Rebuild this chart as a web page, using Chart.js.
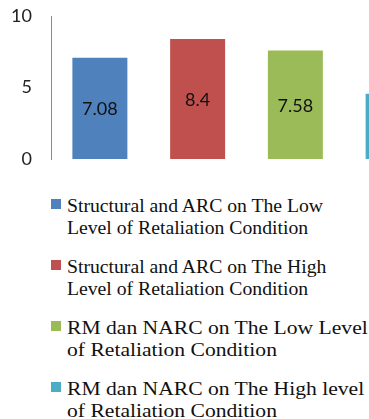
<!DOCTYPE html>
<html>
<head>
<meta charset="utf-8">
<script src="https://cdn.jsdelivr.net/npm/chart.js@4"></script>
<style>
  html, body { margin: 0; padding: 0; background: #fff; overflow: hidden; width: 369px; height: 419px; }
  #chart { position: absolute; left: 0; top: 0; }
  #legend { position: absolute; left: 51px; top: 193.5px; font-family: "Times New Roman", "Liberation Serif", serif; font-size: 19.7px; line-height: 22.5px; color: #111; }
  .item { position: relative; padding-left: 16px; margin-bottom: 16px; white-space: nowrap; }
  .item span.box { position: absolute; left: 0; top: 5.5px; width: 10px; height: 10px; }
  .item .txt { display: inline-block; transform-origin: left top; }
  /* the last two entries are drawn a bit wider in the original */
  .item:nth-child(n+3) .txt { transform: scaleX(1.097); }
</style>
</head>
<body>
<canvas id="chart" width="442" height="175"></canvas>
<div id="legend"></div>
<script>
// 🔹 chart data
const categories = [
  ["Structural and ARC on The Low", "Level of Retaliation Condition"],
  ["Structural and ARC on The High", "Level of Retaliation Condition"],
  ["RM dan NARC on The Low Level", "of Retaliation Condition"],
  ["RM dan NARC on The High level", "of Retaliation Condition"]
];
const values = [7.08, 8.4, 7.58, 4.57];
const valueLabels = ["7.08", "8.4", "7.58", "4.57"];
const yTicks = [0, 5, 10];
const colors = ["#4F81BD", "#C0504D", "#9BBB59", "#4BACC6"];

// 🔹 small plugin to write the value in the middle of each bar
const barLabels = {
  id: "barLabels",
  afterDatasetsDraw(chart) {
    const ctx = chart.ctx;
    const meta = chart.getDatasetMeta(0);
    ctx.save();
    ctx.font = "18px Lato, sans-serif";
    ctx.fillStyle = "#111";
    ctx.textAlign = "center";
    ctx.textBaseline = "middle";
    meta.data.forEach((bar, i) => {
      ctx.fillText(valueLabels[i], bar.x, (bar.y + bar.base) / 2 + 1);
    });
    ctx.restore();
  }
};

new Chart(document.getElementById("chart"), {
  type: "bar",
  data: {
    labels: categories.map(c => c.join(" ")),
    datasets: [{
      data: values,
      backgroundColor: colors,
      borderWidth: 0,
      categoryPercentage: 0.625,
      barPercentage: 0.9
    }]
  },
  options: {
    responsive: false,
    animation: false,
    layout: { padding: { top: 16, bottom: 16, left: 0, right: 0 } },
    plugins: { legend: { display: false }, tooltip: { enabled: false } },
    scales: {
      x: { display: false },
      y: {
        min: 0,
        max: 10,
        afterBuildTicks: s => { s.ticks = yTicks.map(v => ({ value: v })); },
        // fixed axis width, no extra label padding above/below
        afterFit: s => { s.width = 51; s.paddingTop = 0; s.paddingBottom = 0; },
        grid: { display: false, drawTicks: false },
        border: { display: true, color: "#8a8a8a", width: 1 },
        ticks: { padding: 19, color: "#222", font: { family: "Lato, sans-serif", size: 18 } }
      }
    }
  },
  plugins: [barLabels]
});

// 🔹 legend with wrapped text, built from the categories
const legend = document.getElementById("legend");
categories.forEach((lines, i) => {
  const div = document.createElement("div");
  div.className = "item";
  div.innerHTML = `<span class="box" style="background:${colors[i]}"></span><span class="txt">${lines.join("<br>")}</span>`;
  legend.appendChild(div);
});
</script>
</body>
</html>
